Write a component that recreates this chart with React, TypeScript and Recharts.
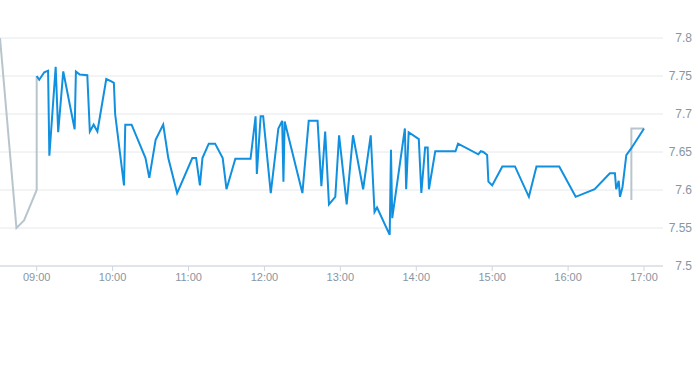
import { CartesianGrid, Line, LineChart, XAxis, YAxis } from "recharts";

// Séance du jour : cours en continu (bleu) et hors séance (gris).
const blueTimes = [
  "09:00", "09:02", "09:06", "09:09", "09:10", "09:15", "09:17", "09:21", "09:30", "09:31",
  "09:34", "09:40", "09:42", "09:45", "09:48", "09:55", "09:59", "10:01", "10:02", "10:09",
  "10:10", "10:15", "10:26", "10:29", "10:34", "10:40", "10:44", "10:51", "11:03", "11:06",
  "11:09", "11:11", "11:16", "11:21", "11:27", "11:30", "11:37", "11:49", "11:53", "11:54",
  "11:57", "11:59", "12:05", "12:11", "12:14", "12:15", "12:16", "12:30", "12:35", "12:42",
  "12:45", "12:48", "12:51", "12:56", "12:59", "13:05", "13:10", "13:18", "13:24", "13:27",
  "13:29", "13:39", "13:40", "13:41", "13:51", "13:52", "13:54", "14:02", "14:04", "14:07",
  "14:09", "14:10", "14:15", "14:31", "14:33", "14:49", "14:51", "14:53", "14:56", "14:57",
  "15:00", "15:08", "15:18", "15:29", "15:35", "15:53", "16:06", "16:21", "16:33", "16:37",
  "16:38", "16:40", "16:41", "16:43", "16:46", "16:50", "17:00",
];
const blueValues = [
  7.75, 7.745, 7.755, 7.757, 7.645, 7.762, 7.676, 7.756, 7.68, 7.756,
  7.752, 7.751, 7.677, 7.686, 7.677, 7.746, 7.743, 7.741, 7.7, 7.606,
  7.686, 7.686, 7.642, 7.616, 7.666, 7.686, 7.642, 7.596, 7.642, 7.642,
  7.606, 7.642, 7.661, 7.661, 7.642, 7.601, 7.641, 7.641, 7.697, 7.621,
  7.697, 7.697, 7.596, 7.681, 7.691, 7.611, 7.69, 7.596, 7.691, 7.691,
  7.605, 7.677, 7.581, 7.591, 7.672, 7.581, 7.672, 7.601, 7.672, 7.571,
  7.577, 7.541, 7.653, 7.563, 7.681, 7.601, 7.676, 7.667, 7.596, 7.656,
  7.656, 7.601, 7.651, 7.651, 7.661, 7.647, 7.651, 7.65, 7.646, 7.611,
  7.606, 7.631, 7.631, 7.591, 7.631, 7.631, 7.591, 7.601, 7.622, 7.622,
  7.601, 7.612, 7.591, 7.604, 7.646, 7.655, 7.681,
];

// null = coupure entre pré-ouverture et post-clôture
const grayTimes = ["08:31", "08:44", "08:50", "09:00", "09:00", "12:00", "16:50", "16:50", "17:00"];
const grayValues = [7.8, 7.55, 7.56, 7.6, 7.75, null, 7.587, 7.681, 7.681];

const xTicks = ["09:00", "10:00", "11:00", "12:00", "13:00", "14:00", "15:00", "16:00", "17:00"];
const yTicks = [7.5, 7.55, 7.6, 7.65, 7.7, 7.75, 7.8];

const toMin = (s: string) => {
  const [h, m] = s.split(":").map(Number);
  return h * 60 + m;
};
const fmtTime = (v: number) =>
  `${String(Math.floor(v / 60)).padStart(2, "0")}:${String(v % 60).padStart(2, "0")}`;

const blueData = blueTimes.map((t, i) => ({ t: toMin(t), v: blueValues[i] }));
const grayData = grayTimes.map((t, i) => ({ t: toMin(t), v: grayValues[i] }));

const AXIS_TEXT = "#8995a1";
const FONT = "'Liberation Sans', Arial, sans-serif";

export default function App() {
  return (
    <div style={{ position: "absolute", left: 0, top: 0, fontFamily: FONT }}>
      <LineChart
        width={693}
        height={365}
        margin={{ top: 38, right: 0, bottom: 69, left: 0 }}
      >
        <CartesianGrid stroke="#e4e8ec" vertical={false} />
        <XAxis
          type="number"
          dataKey="t"
          domain={[511, 1035]}
          ticks={xTicks.map(toMin)}
          tickFormatter={fmtTime}
          allowDataOverflow
          height={30}
          tick={{ fill: AXIS_TEXT, fontSize: 11, fontFamily: FONT }}
          tickLine={{ stroke: "#cfd6dd" }}
          tickSize={5}
          axisLine={{ stroke: "#cfd6dd" }}
        />
        <YAxis
          orientation="right"
          type="number"
          domain={[7.5, 7.8]}
          ticks={yTicks}
          tickFormatter={(v: number) => String(v)}
          width={30}
          tickSize={0}
          tickMargin={0}
          tickLine={false}
          axisLine={false}
          tick={{ fill: AXIS_TEXT, fontSize: 12, fontFamily: FONT, textAnchor: "end", dx: 29 }}
        />
        <Line
          data={grayData}
          dataKey="v"
          type="linear"
          stroke="#b9c5cc"
          strokeWidth={2}
          dot={false}
          connectNulls={false}
          isAnimationActive={false}
        />
        <Line
          data={blueData}
          dataKey="v"
          type="linear"
          stroke="#1190e0"
          strokeWidth={2}
          dot={false}
          isAnimationActive={false}
        />
      </LineChart>
    </div>
  );
}
